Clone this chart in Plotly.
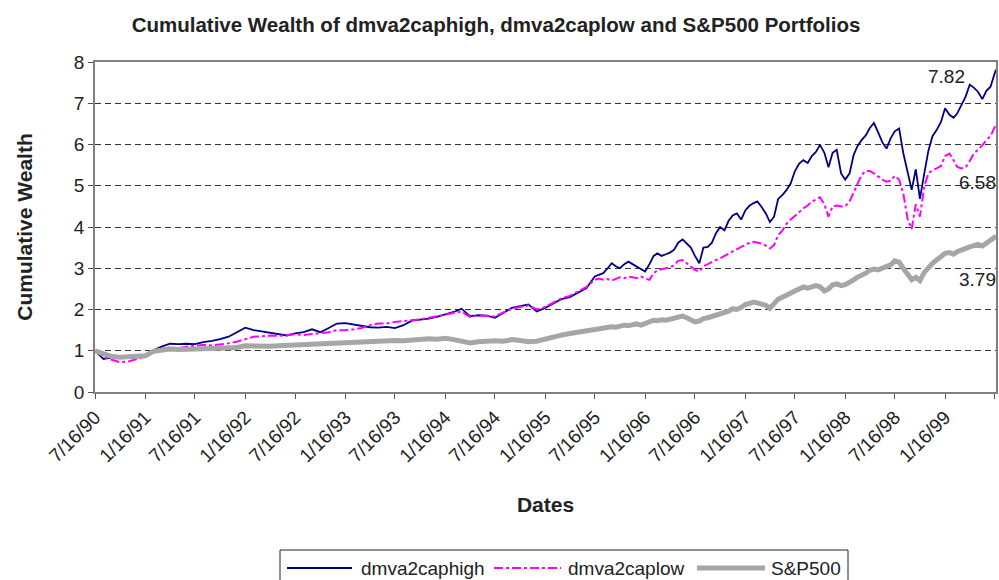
import pandas as pd
import plotly.graph_objects as go

# ---------------- data ----------------
series_names = ["dmva2caphigh", "dmva2caplow", "S&P500"]

# monthly values, Jul-1990 .. Jun-1995
high_early = [1.00, 0.80, 0.84, 0.83, 0.85, 0.85, 0.88, 1.02, 1.10, 1.17,
              1.16, 1.17, 1.16, 1.21, 1.24, 1.28, 1.34, 1.45, 1.56, 1.50,
              1.47, 1.42, 1.40, 1.37, 1.42, 1.45, 1.52, 1.45, 1.55, 1.66,
              1.67, 1.64, 1.60, 1.57, 1.56, 1.58, 1.55, 1.62, 1.73, 1.75,
              1.78, 1.82, 1.88, 1.94, 2.02, 1.84, 1.86, 1.85, 1.80, 1.92,
              2.04, 2.08, 2.12, 1.95, 2.04, 2.15, 2.25, 2.30, 2.40, 2.52]
low_early = [1.00, 0.85, 0.78, 0.72, 0.74, 0.80, 0.86, 1.00, 1.05, 1.08,
             1.06, 1.10, 1.12, 1.14, 1.13, 1.15, 1.18, 1.22, 1.28, 1.34,
             1.35, 1.37, 1.36, 1.38, 1.40, 1.38, 1.40, 1.42, 1.45, 1.50,
             1.50, 1.52, 1.55, 1.62, 1.66, 1.66, 1.70, 1.72, 1.74, 1.76,
             1.80, 1.84, 1.88, 1.92, 1.95, 1.82, 1.85, 1.85, 1.83, 1.93,
             2.02, 2.06, 2.10, 2.00, 2.06, 2.17, 2.27, 2.33, 2.43, 2.55]
sp_early = [1.00, 0.92, 0.86, 0.84, 0.85, 0.86, 0.88, 0.99, 1.02, 1.04,
            1.03, 1.05, 1.04, 1.05, 1.05, 1.06, 1.05, 1.08, 1.12, 1.11,
            1.12, 1.11, 1.12, 1.13, 1.13, 1.15, 1.17, 1.16, 1.17, 1.20,
            1.20, 1.21, 1.22, 1.23, 1.24, 1.26, 1.25, 1.24, 1.26, 1.27,
            1.29, 1.28, 1.30, 1.27, 1.22, 1.19, 1.22, 1.24, 1.24, 1.23,
            1.27, 1.25, 1.22, 1.23, 1.29, 1.33, 1.38, 1.42, 1.45, 1.48]

# half-monthly values, mid Jul-1995 .. mid Jul-1999, plus last day
high_late = [2.80, 2.84, 2.88, 3.00, 3.12, 3.05, 3.00, 3.10, 3.16, 3.10,
             3.04, 2.98, 2.92, 3.10, 3.30, 3.36, 3.30, 3.34, 3.38, 3.45,
             3.62, 3.70, 3.60, 3.50, 3.30, 3.12, 3.50, 3.52, 3.62, 3.85,
             4.00, 3.92, 4.15, 4.28, 4.33, 4.18, 4.40, 4.52, 4.58, 4.62,
             4.49, 4.33, 4.12, 4.25, 4.68, 4.78, 4.90, 5.06, 5.35, 5.54,
             5.62, 5.55, 5.72, 5.82, 5.99, 5.80, 5.45, 5.80, 5.87, 5.30,
             5.15, 5.30, 5.75, 5.95, 6.10, 6.22, 6.40, 6.52, 6.30, 6.05,
             5.90, 6.15, 6.32, 6.39, 5.80, 5.35, 4.90, 5.40, 4.68, 5.30,
             5.85, 6.20, 6.35, 6.55, 6.88, 6.72, 6.65, 6.75, 6.95, 7.16,
             7.45, 7.38, 7.28, 7.10, 7.30, 7.40, 7.72, 7.82]
low_late = [2.72, 2.75, 2.72, 2.74, 2.70, 2.75, 2.78, 2.76, 2.80, 2.78,
            2.76, 2.80, 2.75, 2.72, 2.88, 2.95, 2.98, 3.00, 3.02, 3.08,
            3.18, 3.20, 3.12, 3.05, 2.96, 2.92, 3.05, 3.10, 3.16, 3.20,
            3.24, 3.30, 3.36, 3.42, 3.48, 3.52, 3.56, 3.62, 3.64, 3.62,
            3.60, 3.55, 3.48, 3.56, 3.80, 3.92, 4.08, 4.18, 4.27, 4.36,
            4.45, 4.52, 4.62, 4.66, 4.72, 4.55, 4.25, 4.50, 4.52, 4.50,
            4.50, 4.62, 4.85, 5.02, 5.25, 5.36, 5.36, 5.30, 5.22, 5.15,
            5.10, 5.12, 5.24, 5.15, 4.82, 4.20, 3.95, 4.55, 4.25, 4.98,
            5.30, 5.38, 5.42, 5.48, 5.72, 5.78, 5.62, 5.46, 5.42, 5.44,
            5.60, 5.78, 5.87, 5.98, 6.11, 6.20, 6.42, 6.50]
sp_late = [1.52, 1.55, 1.54, 1.56, 1.58, 1.57, 1.60, 1.62, 1.61, 1.63,
           1.65, 1.62, 1.66, 1.70, 1.74, 1.73, 1.75, 1.74, 1.76, 1.77,
           1.82, 1.84, 1.80, 1.76, 1.70, 1.72, 1.78, 1.80, 1.83, 1.85,
           1.88, 1.90, 1.96, 2.02, 2.00, 2.05, 2.12, 2.15, 2.18, 2.16,
           2.14, 2.10, 2.03, 2.12, 2.25, 2.30, 2.36, 2.40, 2.45, 2.50,
           2.55, 2.52, 2.56, 2.58, 2.55, 2.45, 2.50, 2.60, 2.62, 2.58,
           2.60, 2.65, 2.72, 2.78, 2.82, 2.88, 2.95, 2.98, 2.96, 3.00,
           3.02, 3.08, 3.18, 3.15, 3.00, 2.85, 2.72, 2.78, 2.70, 2.90,
           3.02, 3.12, 3.20, 3.28, 3.36, 3.38, 3.34, 3.40, 3.45, 3.48,
           3.52, 3.55, 3.58, 3.54, 3.60, 3.66, 3.75, 3.79]

end_labels = ["7.82", "6.58", "3.79"]

tick_dates = ["1990-07-16", "1991-01-16", "1991-07-16", "1992-01-16", "1992-07-16",
              "1993-01-16", "1993-07-16", "1994-01-16", "1994-07-16", "1995-01-16",
              "1995-07-16", "1996-01-16", "1996-07-16", "1997-01-16", "1997-07-16",
              "1998-01-16", "1998-07-16", "1999-01-16", "1999-07-16"]
tick_labels = ["7/16/90", "1/16/91", "7/16/91", "1/16/92", "7/16/92", "1/16/93",
               "7/16/93", "1/16/94", "7/16/94", "1/16/95", "7/16/95", "1/16/96",
               "7/16/96", "1/16/97", "7/16/97", "1/16/98", "7/16/98", "1/16/99", ""]

# ---------------- dates ----------------
early_dates = list(pd.date_range("1990-07-01", periods=60, freq="MS") + pd.Timedelta(days=15))
late_dates = []
for d in pd.date_range("1995-07-01", "1999-07-01", freq="MS"):
    late_dates.append(d + pd.Timedelta(days=15))
    late_dates.append(d + pd.DateOffset(months=1))
late_dates = late_dates[:96] + [pd.Timestamp("1999-07-16"), pd.Timestamp("1999-07-21")]
dates = early_dates + late_dates

high = high_early + high_late
low = low_early + low_late
sp = sp_early + sp_late

FONT = "Liberation Sans, Arial, sans-serif"
TXT = "#222222"
colors = ["#000080", "#FF00FF", "#A6A6A6"]
widths = [1.8, 2, 5]
dashes = ["solid", "dashdot", "solid"]

# plot area in page pixels (for placing the hand-made legend / labels)
L, R, T, B = 95, 996, 62, 392
W, H = 999, 580
def px(x):
    return (x - L) / (R - L)
def py(y):
    return (B - y) / (B - T)

fig = go.Figure()
for name, yv, c, w, d in zip(series_names, [high, low, sp], colors, widths, dashes):
    fig.add_trace(go.Scatter(x=dates, y=yv, name=name, mode="lines",
                             line=dict(color=c, width=w, dash=d), showlegend=False))

# end value labels
label_pos = [(967, 76), (998, 182), (998, 279)]
for txt, (lx, ly) in zip(end_labels, label_pos):
    fig.add_annotation(x=px(lx), y=py(ly), xref="paper", yref="paper", text=txt,
                       showarrow=False, xanchor="right", yanchor="middle",
                       font=dict(family=FONT, size=19, color=TXT))

# legend box drawn like the reference (long line samples)
shapes = [dict(type="rect", xref="paper", yref="paper", x0=px(280), x1=px(848),
               y0=py(550), y1=py(600), line=dict(color=TXT, width=1),
               fillcolor="white", layer="below")]
leg_y = 568
samples = [(287, 352, 359), (494, 561, 566), (697, 765, 769)]
for (a, b, tx), name, c, w, d in zip(samples, series_names, colors, widths, dashes):
    shapes.append(dict(type="line", xref="paper", yref="paper", x0=px(a), x1=px(b),
                       y0=py(leg_y), y1=py(leg_y), line=dict(color=c, width=w, dash=d)))
    fig.add_annotation(x=px(tx), y=py(leg_y), xref="paper", yref="paper", text=name,
                       showarrow=False, xanchor="left", yanchor="middle",
                       font=dict(family=FONT, size=19, color=TXT))

fig.update_layout(
    width=W, height=H, autosize=False,
    margin=dict(l=L, r=W - R, t=T, b=H - B),
    paper_bgcolor="white", plot_bgcolor="white",
    font=dict(family=FONT, color=TXT),
    title=dict(text="<b>Cumulative Wealth of dmva2caphigh, dmva2caplow and S&P500 Portfolios</b>",
               x=496 / W, xanchor="center", y=1 - 25 / H, yanchor="middle",
               font=dict(family=FONT, size=20.5, color=TXT)),
    showlegend=False,
    shapes=shapes,
)
fig.update_xaxes(type="date", range=["1990-07-16", "1999-07-21"],
                 tickmode="array", tickvals=tick_dates, ticktext=tick_labels,
                 tickangle=-45, ticks="outside", ticklen=5, tickcolor="#555555",
                 tickfont=dict(family=FONT, size=19, color=TXT),
                 showline=True, linecolor="#808080", linewidth=1.5, mirror=True,
                 showgrid=False, zeroline=False, automargin=False,
                 title=dict(text="<b>Dates</b>", standoff=32,
                            font=dict(family=FONT, size=21, color=TXT)))
fig.update_yaxes(range=[0, 8], dtick=1, tick0=0,
                 ticks="outside", ticklen=5, tickcolor="#555555",
                 tickfont=dict(family=FONT, size=19, color=TXT),
                 showline=True, linecolor="#808080", linewidth=1.5, mirror=True,
                 showgrid=True, gridcolor="#333333", gridwidth=1, griddash="6px,4px",
                 zeroline=False, automargin=False,
                 title=dict(text="<b>Cumulative Wealth</b>", standoff=36,
                            font=dict(family=FONT, size=21, color=TXT)))

fig.write_html("out.html", config={"displayModeBar": False},
               post_script="document.body.style.margin='0px';")
